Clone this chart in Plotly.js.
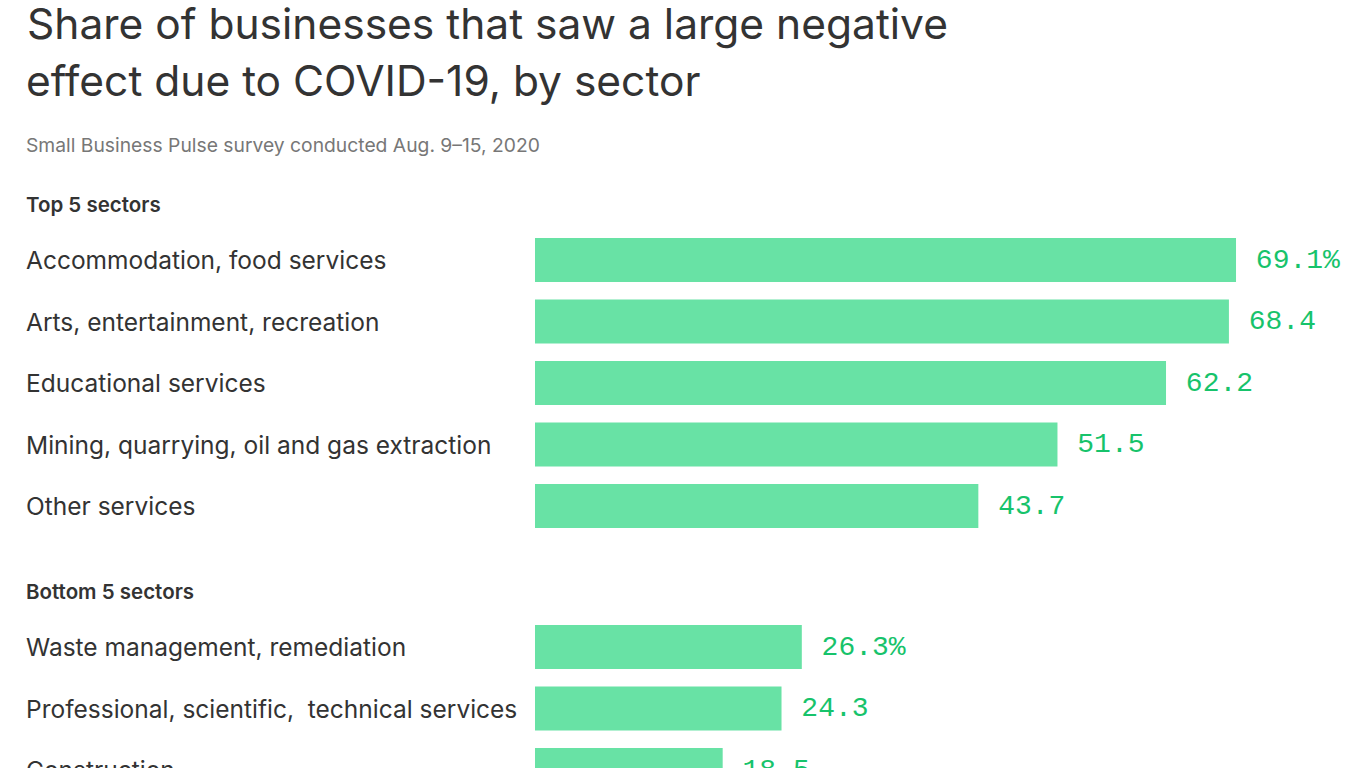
<!DOCTYPE html>
<html>
<head>
<meta charset="utf-8">
<script src="https://cdn.plot.ly/plotly-3.0.1.min.js"></script>
<style>
  html, body { margin: 0; padding: 0; overflow: hidden; background: #fff; }
  #chart { width: 1366px; height: 900px; }
</style>
</head>
<body>
<div id="chart"></div>
<script>
// ---- data ----
const topSectors = [
  "Accommodation, food services",
  "Arts, entertainment, recreation",
  "Educational services",
  "Mining, quarrying, oil and gas extraction",
  "Other services"
];
const topValues = [69.1, 68.4, 62.2, 51.5, 43.7];

const bottomSectors = [
  "Waste management, remediation",
  "Professional, scientific,  technical services",
  "Construction"
];
const bottomValues = [26.3, 24.3, 18.5];

const titleLines = ["Share of businesses that saw a large negative", "effect due to COVID-19, by sector"];
const subtitle = "Small Business Pulse survey conducted Aug. 9–15, 2020";
const groupHeaders = ["Top 5 sectors", "Bottom 5 sectors"];

// ---- layout helpers (pixels) ----
const W = 1366, H = 900;
const LEFT = 27;
const ANN_LEFT = 24; // annotation boxes add a small inner pad
const barStart = 535;
const pxPerUnit = 10.145;
const rowStep = 61.5;
const barH = 44;
const topFirstCenter = 260;
const bottomFirstCenter = 647;

const py = p => 1 - p / H;
function domainFor(firstCenter, n) {
  const top = firstCenter - rowStep / 2;
  const bottom = firstCenter + (n - 1) * rowStep + rowStep / 2;
  return [py(bottom), py(top)];
}

const BAR = "#68e2a5";
const VAL = "#17c36b";
const DARK = "#333333";
const SANS = "Inter, Roboto, sans-serif";

function fmt(vals) {
  return vals.map((v, i) => "\u00a0" + v.toFixed(1) + (i === 0 ? "%" : ""));
}

const valueFont = { family: "Liberation Mono, DejaVu Sans Mono, monospace", size: 28, color: VAL };

const traces = [
  {
    type: "bar", orientation: "h",
    x: topValues, y: topSectors,
    xaxis: "x", yaxis: "y",
    marker: { color: BAR },
    text: fmt(topValues), textposition: "outside", cliponaxis: false,
    textfont: valueFont, hoverinfo: "skip"
  },
  {
    type: "bar", orientation: "h",
    x: bottomValues, y: bottomSectors,
    xaxis: "x2", yaxis: "y2",
    marker: { color: BAR },
    text: fmt(bottomValues), textposition: "outside", cliponaxis: false,
    textfont: valueFont, hoverinfo: "skip"
  }
];

const xRange = [0, (W - barStart) / pxPerUnit];
const xCommon = {
  domain: [barStart / W, 1], range: xRange, fixedrange: true,
  showgrid: false, zeroline: false, showticklabels: false, showline: false, ticks: ""
};
const yCommon = {
  type: "category", showgrid: false, zeroline: false, showticklabels: false,
  showline: false, ticks: "", fixedrange: true
};

const labelFont = { family: SANS, size: 24.5, color: DARK };
const annotations = [];
topSectors.forEach(s => annotations.push({
  xref: "paper", yref: "y", x: ANN_LEFT / W, y: s, xanchor: "left", yanchor: "middle",
  text: s, showarrow: false, font: labelFont
}));
bottomSectors.forEach(s => annotations.push({
  xref: "paper", yref: "y2", x: ANN_LEFT / W, y: s, xanchor: "left", yanchor: "middle",
  text: s, showarrow: false, font: labelFont
}));
annotations.push({
  xref: "paper", yref: "paper", x: ANN_LEFT / W, y: py(81), xanchor: "left", yanchor: "middle",
  text: titleLines[1], showarrow: false,
  font: { family: SANS, size: 42.5, color: DARK }
});
annotations.push({
  xref: "paper", yref: "paper", x: ANN_LEFT / W, y: py(145), xanchor: "left", yanchor: "middle",
  text: subtitle, showarrow: false,
  font: { family: SANS, size: 19.3, color: "#777777" }
});
annotations.push({
  xref: "paper", yref: "paper", x: ANN_LEFT / W, y: py(204), xanchor: "left", yanchor: "middle",
  text: groupHeaders[0], showarrow: false,
  font: { family: SANS, size: 20.5, color: DARK, weight: 600 }
});
annotations.push({
  xref: "paper", yref: "paper", x: ANN_LEFT / W, y: py(591), xanchor: "left", yanchor: "middle",
  text: groupHeaders[1], showarrow: false,
  font: { family: SANS, size: 20.5, color: DARK, weight: 600 }
});

const layout = {
  width: W, height: H,
  margin: { l: 0, r: 0, t: 0, b: 0 },
  paper_bgcolor: "#ffffff", plot_bgcolor: "#ffffff",
  showlegend: false,
  bargap: 1 - barH / rowStep,
  title: {
    text: titleLines[0],
    x: LEFT / W, xanchor: "left", xref: "paper",
    y: py(24), yref: "container", yanchor: "middle",
    font: { family: SANS, size: 42.5, color: DARK }
  },
  xaxis: Object.assign({}, xCommon, { anchor: "y" }),
  xaxis2: Object.assign({}, xCommon, { anchor: "y2" }),
  yaxis: Object.assign({}, yCommon, { domain: domainFor(topFirstCenter, topSectors.length), range: [topSectors.length - 0.5, -0.5], anchor: "x" }),
  yaxis2: Object.assign({}, yCommon, { domain: domainFor(bottomFirstCenter, bottomSectors.length), range: [bottomSectors.length - 0.5, -0.5], anchor: "x2" }),
  annotations: annotations
};

Plotly.newPlot("chart", traces, layout, { displayModeBar: false, staticPlot: true });
</script>
</body>
</html>
